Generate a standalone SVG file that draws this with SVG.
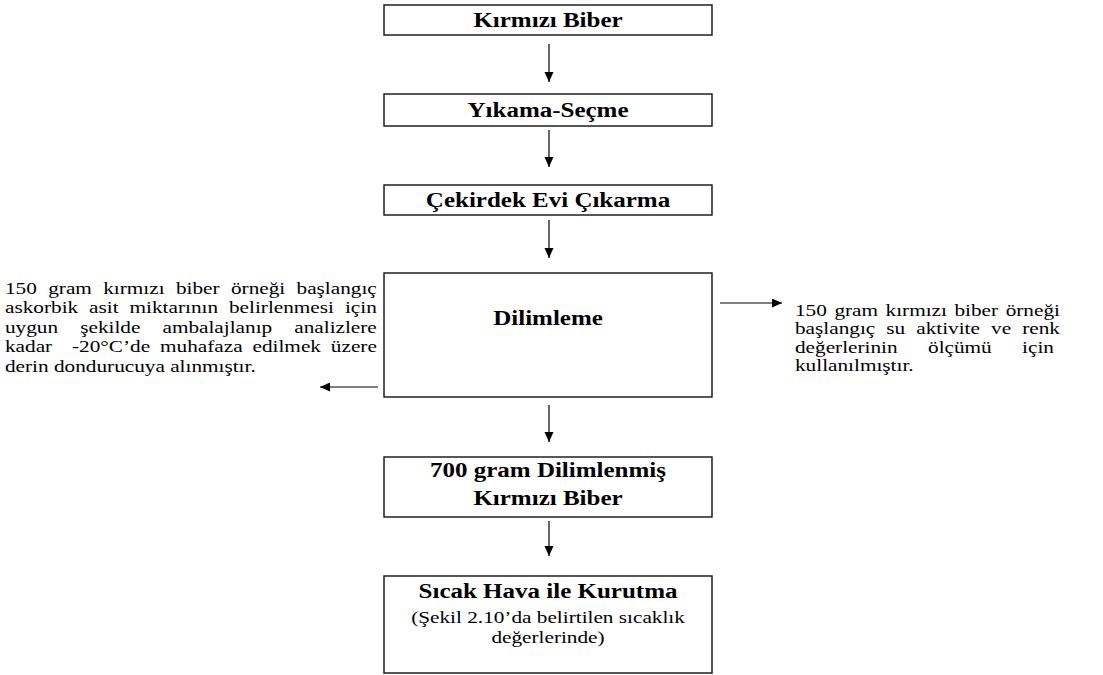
<svg xmlns="http://www.w3.org/2000/svg" width="1103" height="675" viewBox="0 0 1103 675">
<style>
.box{fill:#fff;stroke:#111;stroke-width:1.4}
.t{font-family:"Liberation Serif","Times New Roman",serif;fill:#000}
.b{font-weight:bold;font-size:20px;text-anchor:middle}
.s{font-size:17px}
.c{text-anchor:middle}
.ln{stroke:#000;stroke-width:1.2;fill:none;marker-end:url(#ah)}
</style>
<defs>
<marker id="ah" markerUnits="userSpaceOnUse" markerWidth="10" markerHeight="10" refX="10" refY="4.5" orient="auto">
<path d="M0,0 L10,4.5 L0,9 z" fill="#000"/>
</marker>
</defs>
<rect width="1103" height="675" fill="#fff"/>
<g id="connectors">
<line class="ln" x1="549" y1="44" x2="549" y2="82"/>
<line class="ln" x1="549" y1="130" x2="549" y2="167"/>
<line class="ln" x1="549" y1="220" x2="549" y2="258"/>
<line class="ln" x1="549" y1="405" x2="549" y2="442"/>
<line class="ln" x1="549" y1="521" x2="549" y2="556"/>
<line class="ln" x1="378" y1="387" x2="320" y2="387"/>
<line class="ln" x1="720" y1="303" x2="782" y2="303"/>
</g>
<g id="n1">
<rect class="box" x="384" y="5" width="328" height="30"/>
<text class="t b" transform="translate(548,27) scale(1.25,1)">Kırmızı Biber</text>
</g>
<g id="n2">
<rect class="box" x="384" y="94" width="328" height="32"/>
<text class="t b" transform="translate(548,117) scale(1.25,1)">Yıkama-Seçme</text>
</g>
<g id="n3">
<rect class="box" x="384" y="185" width="328" height="30"/>
<text class="t b" transform="translate(548,207) scale(1.25,1)">Çekirdek Evi Çıkarma</text>
</g>
<g id="n4">
<rect class="box" x="384" y="273" width="328" height="124"/>
<text class="t b" transform="translate(548,325) scale(1.25,1)">Dilimleme</text>
</g>
<g id="n5">
<rect class="box" x="384" y="457" width="328" height="60"/>
<text class="t b" transform="translate(548,477) scale(1.25,1)">700 gram Dilimlenmiş</text>
<text class="t b" transform="translate(548,505) scale(1.25,1)">Kırmızı Biber</text>
</g>
<g id="n6">
<rect class="box" x="384" y="576" width="328" height="97"/>
<text class="t b" transform="translate(548,598) scale(1.25,1)">Sıcak Hava ile Kurutma</text>
<text class="t s c" transform="translate(548,623) scale(1.25,1)">(Şekil 2.10’da belirtilen sıcaklık</text>
<text class="t s c" transform="translate(548,643) scale(1.25,1)">değerlerinde)</text>
</g>
<g id="note-left" transform="translate(5,0) scale(1.25,1)">
<text class="t s" x="0" y="294" word-spacing="4.84">150 gram kırmızı biber örneği başlangıç</text>
<text class="t s" x="0" y="313.5" word-spacing="4.51">askorbik asit miktarının belirlenmesi için</text>
<text class="t s" x="0" y="333" word-spacing="13.43">uygun şekilde ambalajlanıp analizlere</text>
<text class="t s" x="0" y="352.5" word-spacing="3.69" xml:space="preserve">kadar  -20°C’de muhafaza edilmek üzere</text>
<text class="t s" x="0" y="372">derin dondurucuya alınmıştır.</text>
</g>
<g id="note-right" transform="translate(795,0) scale(1.25,1)">
<text class="t s" x="0" y="316" word-spacing="1.78">150 gram kırmızı biber örneği</text>
<text class="t s" x="0" y="334.5" word-spacing="4.61">başlangıç su aktivite ve renk</text>
<text class="t s" x="0" y="353" word-spacing="20.07">değerlerinin ölçümü için</text>
<text class="t s" x="0" y="371.5">kullanılmıştır.</text>
</g>
</svg>
